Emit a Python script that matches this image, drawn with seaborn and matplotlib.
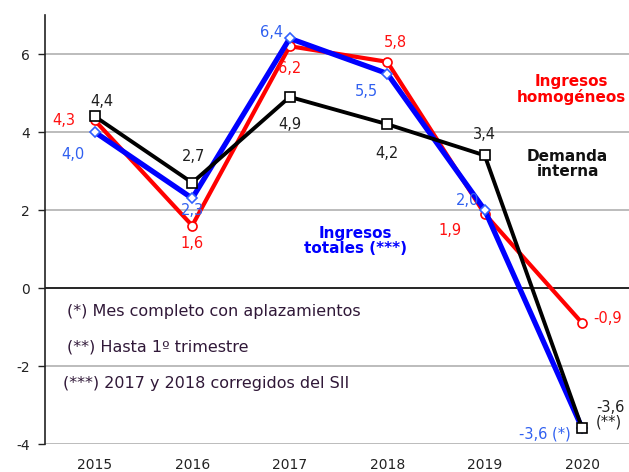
import matplotlib
matplotlib.use("Agg")
import matplotlib.pyplot as plt
import seaborn as sns
import pandas as pd

years = [2015, 2016, 2017, 2018, 2019, 2020]
homogeneos = [4.3, 1.6, 6.2, 5.8, 1.9, -0.9]
totales = [4.0, 2.3, 6.4, 5.5, 2.0, -3.6]
demanda = [4.4, 2.7, 4.9, 4.2, 3.4, -3.6]
yticks = [-4, -2, 0, 2, 4, 6]

sns.set_theme(style="white")
plt.rcParams['font.family'] = ['DejaVu Sans']

fig = plt.figure(figsize=(6.29, 4.72), dpi=100)
ax = fig.add_axes([45/629, 1-444/472, 1-45/629, (444-15)/472])

df = pd.DataFrame({"year": years, "hom": homogeneos, "tot": totales, "dem": demanda})

for y in yticks:
    ax.axhline(y, color="#000000" if y == 0 else "#b0b0b0", lw=1.2, zorder=0)

sns.lineplot(data=df, x="year", y="hom", ax=ax, color="#ff0000", lw=3.0, marker="o",
             markersize=6.5, markerfacecolor="white", markeredgecolor="#ff0000", markeredgewidth=1.2, zorder=3)
sns.lineplot(data=df, x="year", y="tot", ax=ax, color="#0000ff", lw=3.8, marker="D",
             markersize=5.5, markerfacecolor="white", markeredgecolor="#3060ff", markeredgewidth=1.2, zorder=4)
sns.lineplot(data=df, x="year", y="dem", ax=ax, color="#000000", lw=2.8, marker="s",
             markersize=7.5, markerfacecolor="white", markeredgecolor="#000000", markeredgewidth=1.2, zorder=5)

ax.set_xlim(2014.49, 2020.48)
ax.set_ylim(-4, 7.0)
ax.set_yticks(yticks)
ax.set_yticklabels([str(v) for v in yticks], fontsize=10, color="#222222")
ax.set_xticks(years)
ax.set_xticklabels([str(v) for v in years], fontsize=10, color="#222222")
ax.set_xlabel("")
ax.set_ylabel("")
for s in ["top", "right", "bottom"]:
    ax.spines[s].set_visible(False)
ax.spines["left"].set_color("#222222")
ax.spines["left"].set_linewidth(1.2)
ax.tick_params(axis="y", which="both", left=True, length=5, width=1, color="#222222", pad=6)
ax.tick_params(axis="x", bottom=False, pad=4)

fmt = lambda v: ("%.1f" % v).replace(".", ",")
fs = 10.5
red, blue, black = "#ff1010", "#3060f0", "#202020"

def lab(x, y, s, c, dx, dy, ha="center", va="center"):
    ax.annotate(s, (x, y), xytext=(dx, dy), textcoords="offset points", ha=ha, va=va,
                color=c, fontsize=fs, zorder=6)

# red labels
lab(years[0], homogeneos[0], fmt(homogeneos[0]), red, -14, 0, ha="right")
lab(years[1], homogeneos[1], fmt(homogeneos[1]), red, 0, -13)
lab(years[2], homogeneos[2], fmt(homogeneos[2]), red, 0, -16)
lab(years[3], homogeneos[3], fmt(homogeneos[3]), red, 6, 14)
lab(years[4], homogeneos[4], fmt(homogeneos[4]), red, -17, -12, ha="right")
lab(years[5], homogeneos[5], fmt(homogeneos[5]), red, 8, 3, ha="left")
# blue labels
lab(years[0], totales[0], fmt(totales[0]), blue, -7, -16, ha="right")
lab(years[1], totales[1], fmt(totales[1]), blue, 0, -9)
lab(years[2], totales[2], fmt(totales[2]), blue, -5, 4, ha="right")
lab(years[3], totales[3], fmt(totales[3]), blue, -7, -13, ha="right")
lab(years[4], totales[4], fmt(totales[4]), blue, -4, 7, ha="right")
lab(years[5], totales[5], "-3,6 (*)", blue, -8, -4, ha="right")
# black labels
lab(years[0], demanda[0], fmt(demanda[0]), black, 5, 11)
lab(years[1], demanda[1], fmt(demanda[1]), black, 1, 19)
lab(years[2], demanda[2], fmt(demanda[2]), black, 0, -20)
lab(years[3], demanda[3], fmt(demanda[3]), black, 0, -21)
lab(years[4], demanda[4], fmt(demanda[4]), black, 0, 15)
ax.annotate("-3,6\n(**)", (years[5], demanda[5]), xytext=(10, 10), textcoords="offset points",
            ha="left", va="center", color=black, fontsize=fs, linespacing=1.0, zorder=6)

# series names
ax.text(2019.89, 5.08, "Ingresos\nhomogéneos", color="#ff0000", fontsize=11, fontweight="bold",
        ha="center", va="center", linespacing=1.0)
ax.text(2019.85, 3.18, "Demanda\ninterna", color="#111111", fontsize=11, fontweight="bold",
        ha="center", va="center", linespacing=1.0)
ax.text(2017.67, 1.2, "Ingresos\ntotales (***)", color="#0000ff", fontsize=11, fontweight="bold",
        ha="center", va="center", linespacing=1.0)

# notes
note_c = "#301838"
nfs = 11.5
ax.text(2014.72, -0.6, "(*) Mes completo con aplazamientos", color=note_c, fontsize=nfs, va="center")
ax.text(2014.72, -1.5, "(**) Hasta 1º trimestre", color=note_c, fontsize=nfs, va="center")
ax.text(2014.67, -2.45, "(***) 2017 y 2018 corregidos del SII", color=note_c, fontsize=nfs, va="center")

fig.savefig("out.png", dpi=100)
